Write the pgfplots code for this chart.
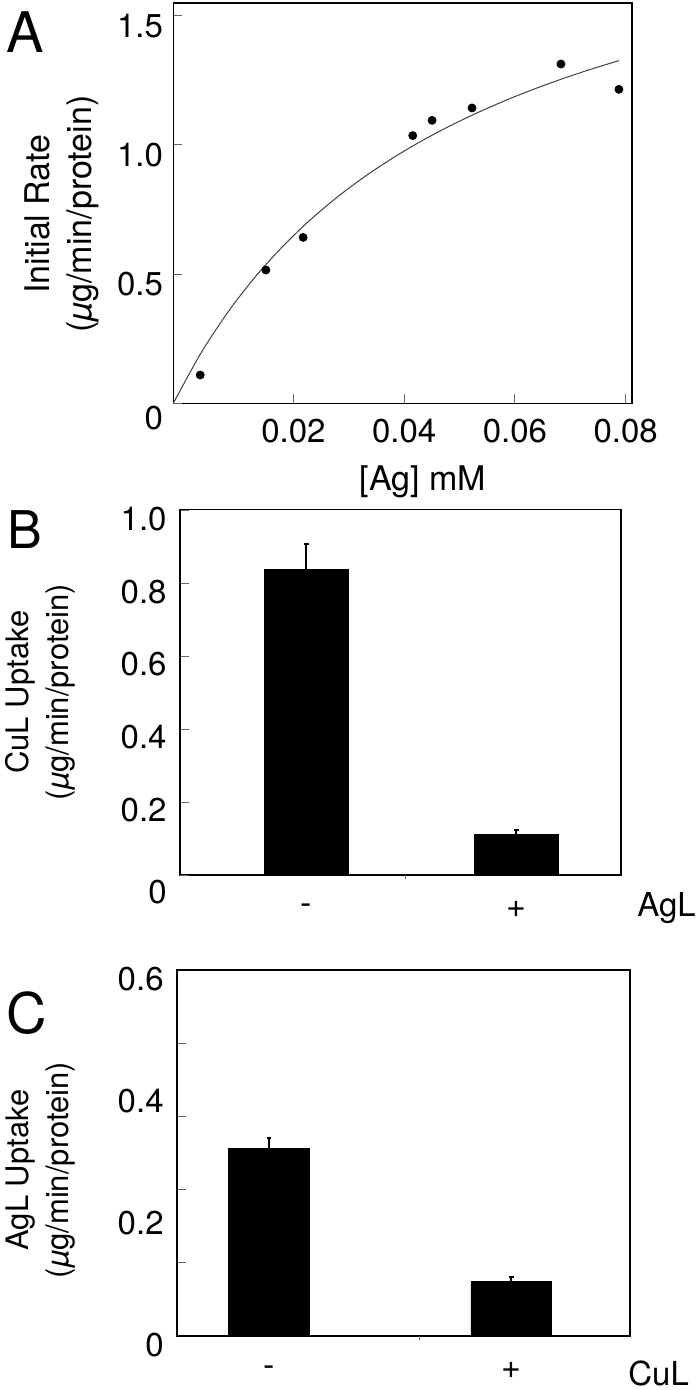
\documentclass[border=0pt]{standalone}
\usepackage{fontspec}
\setmainfont{TeX Gyre Heros}
\usepackage{pgfplots}
\pgfplotsset{compat=1.18}
\pgfplotsset{
  panel/.style={
    scale only axis,
    axis line style={line width=0.8pt, black},
    tick align=inside, xtick pos=bottom, ytick pos=left,
    tick style={line width=0.4pt, black!60},
    major tick length=4.5pt,
    ticklabel style={font=\fontsize{16.5}{16.5}\selectfont, inner sep=0pt},
    /pgf/number format/assume math mode=true,
    scaled x ticks=false, scaled y ticks=false,
    clip=false,
  },
}
\tikzset{lab/.style={rotate=90, align=center, font=\fontsize{15.5}{20}\selectfont}}
\begin{document}
\begin{tikzpicture}
\useasboundingbox (0,0) rectangle (350pt,-695pt);
% ---------------- Panel A ----------------
\begin{axis}[panel,
  width=229.2pt, height=200pt,
  at={(86.65pt,-1.65pt)}, anchor=north west,
  xmin=-0.0017, xmax=0.0811, ymin=0, ymax=1.548,
  xtick={0.02,0.04,0.06,0.08}, xticklabels={0.02,0.04,0.06,0.08},
  xticklabel style={anchor=center, yshift=-14pt},
  ytick={0.5,1.0,1.5}, yticklabels={0.5,1.0,1.5},
  yticklabel style={anchor=east, xshift=-5pt, yshift=-5pt},
  extra y ticks={0}, extra y tick labels={0},
  extra y tick style={yticklabel style={yshift=-2.3pt}},
]
\addplot[smooth, line width=0.5pt, black!75] coordinates {
(-0.0017,0) (0.0033,0.1945) (0.0083,0.3568) (0.0133,0.4944) (0.0183,0.6124)
(0.0233,0.7148) (0.0283,0.8044) (0.0333,0.8836) (0.0383,0.9540) (0.0433,1.0171)
(0.0483,1.0739) (0.0533,1.1252) (0.0583,1.1720) (0.0633,1.2147) (0.0683,1.2538)
(0.0733,1.2899) (0.0788,1.3263)};
\addplot[only marks, mark=*, mark size=2pt, black] coordinates {
(0.00316,0.1095) (0.01502,0.516) (0.02175,0.642) (0.04155,1.036)
(0.04504,1.095) (0.05226,1.143) (0.06832,1.313) (0.07879,1.215)};
\node[lab, font=\fontsize{17}{21}\selectfont] at (axis description cs:-0.243,0.473) {Initial Rate\\({\itshape µ}g/min/protein)};
\node[font=\fontsize{17}{20}\selectfont, anchor=base] at (axis description cs:0.544,-0.217) {[Ag] mM};
\end{axis}
\node[font=\fontsize{28}{28}\selectfont, anchor=base west, inner sep=0pt] at (3pt,-26.5pt) {A};
% ---------------- Panel B ----------------
\begin{axis}[panel,
  width=220.35pt, height=182.85pt,
  at={(90pt,-254.65pt)}, anchor=north west,
  xmin=-0.602, xmax=1.498, ymin=0, ymax=1.004,
  ybar, bar width=0.4,
  xtick=\empty,
  ytick={0.2,0.4,0.6,0.8,1.0}, yticklabels={0.2,0.4,0.6,0.8,1.0},
  yticklabel style={anchor=east, xshift=-6.5pt, yshift=-4pt},
  extra y ticks={0}, extra y tick labels={0},
  extra y tick style={yticklabel style={yshift=-4.5pt}},
]
\addplot[ybar, fill=black, draw=black,
  error bars/.cd, y dir=plus, y explicit,
  error bar style={line width=1pt, black},
  error mark options={rotate=90, mark size=1.2pt, line width=1pt, black}]
  coordinates {(0,0.840) +- (0,0.068) (1,0.1125) +- (0,0.011)};
\draw[line width=0.4pt, black!60] (axis cs:0.47,0) -- ++(0pt,-2pt);
\node[font=\fontsize{17}{17}\selectfont, anchor=center] at (axis cs:0,0) [yshift=-17pt] {-};
\node[font=\fontsize{17}{17}\selectfont, anchor=center] at (axis cs:1,0) [yshift=-17pt] {+};
\node[lab] at (axis description cs:-0.318,0.5) {CuL Uptake\\({\itshape µ}g/min/protein)};
\end{axis}
\node[font=\fontsize{16.5}{20}\selectfont, anchor=base west, inner sep=0pt] at (318.5pt,-458.3pt) {AgL};
\node[font=\fontsize{26}{26}\selectfont, anchor=base west, inner sep=0pt] at (3.5pt,-274pt) {B};
% ---------------- Panel C ----------------
\begin{axis}[panel,
  width=226.5pt, height=182.85pt,
  at={(88.5pt,-485pt)}, anchor=north west,
  xmin=-0.38, xmax=1.49, ymin=0, ymax=0.6,
  ybar, bar width=0.333,
  xtick=\empty,
  ytick={0,0.2,0.4,0.6}, yticklabels={0,0.2,0.4,0.6},
  major tick length=0pt,
  minor ytick={0.12,0.24,0.36,0.48}, minor tick length=4.5pt,
  yticklabel style={anchor=east, xshift=-6.5pt, yshift=-4.5pt},
]
\addplot[ybar, fill=black, draw=black,
  error bars/.cd, y dir=plus, y explicit,
  error bar style={line width=1pt, black},
  error mark options={rotate=90, mark size=1.2pt, line width=1pt, black}]
  coordinates {(0,0.307) +- (0,0.018) (1,0.0897) +- (0,0.0066)};
\draw[line width=0.4pt, black!60] (axis cs:0.62,0) -- ++(0pt,-2pt);
\node[font=\fontsize{17}{17}\selectfont, anchor=center] at (axis cs:0,0) [yshift=-17.5pt] {-};
\node[font=\fontsize{17}{17}\selectfont, anchor=center] at (axis cs:1,0) [yshift=-17.5pt] {+};
\node[lab] at (axis description cs:-0.302,0.453) {AgL Uptake\\({\itshape µ}g/min/protein)};
\end{axis}
\node[font=\fontsize{16.5}{20}\selectfont, anchor=base west, inner sep=0pt] at (314pt,-692.5pt) {CuL};
\node[font=\fontsize{28}{28}\selectfont, anchor=base west, inner sep=0pt] at (3pt,-516.5pt) {C};
\end{tikzpicture}
\end{document}
